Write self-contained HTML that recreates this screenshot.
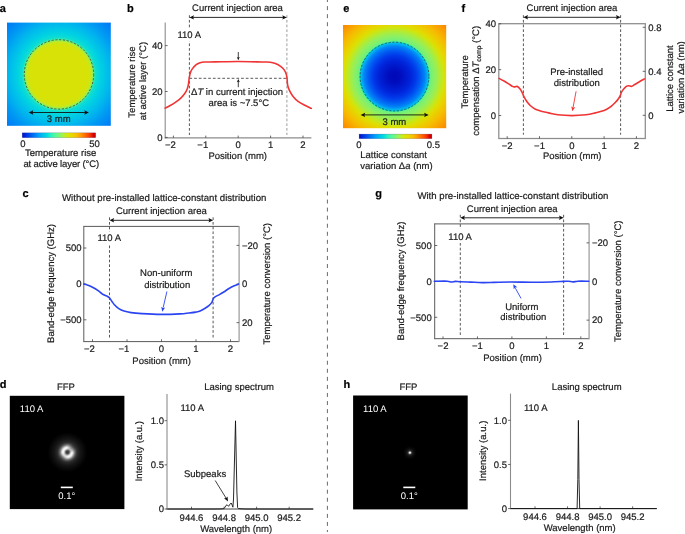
<!DOCTYPE html>
<html><head><meta charset="utf-8"><style>
html,body{margin:0;padding:0;background:#fff;overflow:hidden}
svg{display:block;will-change:transform}
</style></head><body>
<svg width="685" height="534" viewBox="0 0 685 534" font-family='"Liberation Sans", sans-serif' font-size="9.5" fill="#1a1a1a" text-rendering="geometricPrecision"><style>text{stroke:#1a1a1a;stroke-width:0.2px;stroke-linejoin:round;paint-order:stroke} text[fill="#fff"]{stroke:none} text[fill="#000"]{stroke:#000}</style>
<defs><linearGradient id="cb" x1="0" y1="0" x2="1" y2="0"><stop offset="0" stop-color="#0010c8"/><stop offset="0.08" stop-color="#0040e8"/><stop offset="0.15" stop-color="#0070f4"/><stop offset="0.22" stop-color="#00a0f8"/><stop offset="0.28" stop-color="#00c0f0"/><stop offset="0.33" stop-color="#00d8e0"/><stop offset="0.38" stop-color="#20f0c8"/><stop offset="0.44" stop-color="#50f8a0"/><stop offset="0.5" stop-color="#78f878"/><stop offset="0.56" stop-color="#b0f040"/><stop offset="0.62" stop-color="#d8e800"/><stop offset="0.68" stop-color="#e8d800"/><stop offset="0.74" stop-color="#f8c000"/><stop offset="0.8" stop-color="#ff9800"/><stop offset="0.86" stop-color="#ff6800"/><stop offset="0.92" stop-color="#f83800"/><stop offset="0.97" stop-color="#d80000"/><stop offset="1" stop-color="#c00000"/></linearGradient><radialGradient id="ga" gradientUnits="userSpaceOnUse" cx="59" cy="74.4" r="75"><stop offset="0" stop-color="#d8e206"/><stop offset="0.36" stop-color="#d8e206"/><stop offset="0.4" stop-color="#d5e30a"/><stop offset="0.43" stop-color="#c8e818"/><stop offset="0.46" stop-color="#7cf070"/><stop offset="0.47" stop-color="#38eda8"/><stop offset="0.49" stop-color="#10ded0"/><stop offset="0.55" stop-color="#00d3e2"/><stop offset="0.61" stop-color="#00c6e7"/><stop offset="0.69" stop-color="#00b5ee"/><stop offset="0.8" stop-color="#009af3"/><stop offset="1" stop-color="#0073f8"/></radialGradient><radialGradient id="ge" gradientUnits="userSpaceOnUse" cx="394.5" cy="76.6" r="74"><stop offset="0" stop-color="#0008b8"/><stop offset="0.08" stop-color="#000dbe"/><stop offset="0.15" stop-color="#0018cb"/><stop offset="0.22" stop-color="#0024da"/><stop offset="0.29" stop-color="#003aea"/><stop offset="0.35" stop-color="#005af2"/><stop offset="0.41" stop-color="#0083f6"/><stop offset="0.44" stop-color="#00aaf1"/><stop offset="0.46" stop-color="#00c9e6"/><stop offset="0.47" stop-color="#20e4c0"/><stop offset="0.48" stop-color="#68f080"/><stop offset="0.5" stop-color="#77f074"/><stop offset="0.54" stop-color="#8bf064"/><stop offset="0.58" stop-color="#9eee4e"/><stop offset="0.62" stop-color="#b6ea2f"/><stop offset="0.66" stop-color="#cfe510"/><stop offset="0.7" stop-color="#e2db00"/><stop offset="0.81" stop-color="#f6bc00"/><stop offset="1" stop-color="#fd8000"/></radialGradient><radialGradient id="ring" gradientUnits="userSpaceOnUse" cx="67.4" cy="452.3" r="20"><stop offset="0.000" stop-color="#383838"/><stop offset="0.050" stop-color="#404040"/><stop offset="0.100" stop-color="#707070"/><stop offset="0.150" stop-color="#c8c8c8"/><stop offset="0.200" stop-color="#f6f6f6"/><stop offset="0.250" stop-color="#f0f0f0"/><stop offset="0.300" stop-color="#c0c0c0"/><stop offset="0.350" stop-color="#848484"/><stop offset="0.425" stop-color="#4a4a4a"/><stop offset="0.500" stop-color="#2a2a2a"/><stop offset="0.650" stop-color="#161616"/><stop offset="0.850" stop-color="#080808"/><stop offset="1.000" stop-color="#000000"/></radialGradient><radialGradient id="shade"><stop offset="0" stop-color="#000" stop-opacity="0.5"/><stop offset="0.6" stop-color="#000" stop-opacity="0.25"/><stop offset="1" stop-color="#000" stop-opacity="0"/></radialGradient><radialGradient id="dot" gradientUnits="userSpaceOnUse" cx="409.9" cy="452.7" r="7"><stop offset="0.000" stop-color="#ffffff"/><stop offset="0.086" stop-color="#e4e4e4"/><stop offset="0.171" stop-color="#888888"/><stop offset="0.271" stop-color="#343434"/><stop offset="0.429" stop-color="#161616"/><stop offset="0.714" stop-color="#070707"/><stop offset="1.000" stop-color="#000000"/></radialGradient></defs>
<line x1="327.4" y1="-1.96" x2="327.4" y2="532" stroke="#6a6a6a" stroke-width="1" stroke-dasharray="4 4.06"/>
<text x="-0.3" y="11.8" font-weight="bold" font-size="11" fill="#000">a</text>
<text x="127" y="11.8" font-weight="bold" font-size="11" fill="#000">b</text>
<text x="22.6" y="196.8" font-weight="bold" font-size="11" fill="#000">c</text>
<text x="-0.3" y="387.8" font-weight="bold" font-size="11" fill="#000">d</text>
<text x="343.3" y="11.8" font-weight="bold" font-size="11" fill="#000">e</text>
<text x="461.5" y="11.6" font-weight="bold" font-size="11" fill="#000">f</text>
<text x="375.3" y="196.8" font-weight="bold" font-size="11" fill="#000">g</text>
<text x="343.5" y="387.8" font-weight="bold" font-size="11" fill="#000">h</text>
<rect x="7" y="22.6" width="103.8" height="103.2" fill="url(#ga)"/>
<circle cx="59.0" cy="74.4" r="34.7" fill="none" stroke="#3a3a3a" stroke-width="0.8" stroke-dasharray="2.2 1.6"/>
<line x1="31.2" y1="112.5" x2="86.4" y2="112.5" stroke="#111" stroke-width="0.9"/>
<polygon points="28.7,112.5 33.3,110.3 32.47,112.5 33.3,114.7" fill="#111"/>
<polygon points="88.9,112.5 84.3,114.7 85.13,112.5 84.3,110.3" fill="#111"/>
<text x="58.7" y="122.2" text-anchor="middle">3 mm</text>
<rect x="22.2" y="132.8" width="73.5" height="4.9" fill="url(#cb)" stroke="#202060" stroke-opacity="0.35" stroke-width="0.5"/>
<text x="22.9" y="147" text-anchor="middle">0</text>
<text x="94.6" y="147" text-anchor="middle">50</text>
<text x="60.7" y="156.2" text-anchor="middle">Temperature rise</text>
<text x="61.3" y="167.4" text-anchor="middle" textLength="75.8" lengthAdjust="spacing">at active layer (°C)</text>
<rect x="343" y="25" width="103.2" height="103.2" fill="url(#ge)"/>
<circle cx="394.5" cy="76.6" r="34.4" fill="none" stroke="#2a4a4a" stroke-width="0.8" stroke-dasharray="2.2 1.6"/>
<line x1="363.1" y1="114.9" x2="426.2" y2="114.9" stroke="#111" stroke-width="0.9"/>
<polygon points="360.6,114.9 365.2,112.7 364.37,114.9 365.2,117.1" fill="#111"/>
<polygon points="428.7,114.9 424.1,117.1 424.93,114.9 424.1,112.7" fill="#111"/>
<text x="394.4" y="124.6" text-anchor="middle">3 mm</text>
<rect x="359.1" y="134.1" width="72.8" height="4.6" fill="url(#cb)" stroke="#202060" stroke-opacity="0.35" stroke-width="0.5"/>
<text x="358.8" y="147.6" text-anchor="middle">0</text>
<text x="433.4" y="147.6" text-anchor="middle">0.5</text>
<text x="360.3" y="158">Lattice constant</text>
<text x="360.3" y="168.5">variation Δ<tspan font-style="italic">a</tspan> (nm)</text>
<line x1="165.2" y1="22.5" x2="165.2" y2="138.4" stroke="#8c8c8c" stroke-width="1.1"/>
<line x1="164.7" y1="137.9" x2="311.4" y2="137.9" stroke="#8c8c8c" stroke-width="1.1"/>
<line x1="165.2" y1="137.4" x2="167.6" y2="137.4" stroke="#444444" stroke-width="0.8"/>
<text x="162.6" y="140.7" text-anchor="end">0</text>
<line x1="165.2" y1="91.5" x2="167.6" y2="91.5" stroke="#444444" stroke-width="0.8"/>
<text x="162.6" y="94.8" text-anchor="end">20</text>
<line x1="165.2" y1="45.6" x2="167.6" y2="45.6" stroke="#444444" stroke-width="0.8"/>
<text x="162.6" y="48.9" text-anchor="end">40</text>
<line x1="173.4" y1="137.9" x2="173.4" y2="135.6" stroke="#444444" stroke-width="0.8"/>
<text x="175.8" y="148.4" text-anchor="end">−2</text>
<line x1="205.8" y1="137.9" x2="205.8" y2="135.6" stroke="#444444" stroke-width="0.8"/>
<text x="208.2" y="148.4" text-anchor="end">−1</text>
<line x1="238.2" y1="137.9" x2="238.2" y2="135.6" stroke="#444444" stroke-width="0.8"/>
<text x="238.2" y="148.4" text-anchor="middle">0</text>
<line x1="270.6" y1="137.9" x2="270.6" y2="135.6" stroke="#444444" stroke-width="0.8"/>
<text x="270.6" y="148.4" text-anchor="middle">1</text>
<line x1="303" y1="137.9" x2="303" y2="135.6" stroke="#444444" stroke-width="0.8"/>
<text x="303" y="148.4" text-anchor="middle">2</text>
<text x="237.7" y="158.7" text-anchor="middle">Position (mm)</text>
<text transform="translate(134.6,82) rotate(-90)" text-anchor="middle">Temperature rise</text>
<text transform="translate(146,81) rotate(-90)" text-anchor="middle">at active layer (°C)</text>
<line x1="189.4" y1="15.2" x2="189.4" y2="135" stroke="#3a3a3a" stroke-width="0.85" stroke-dasharray="2.7 2.0"/>
<line x1="286.9" y1="15.2" x2="286.9" y2="135" stroke="#8a8a8a" stroke-width="0.85" stroke-dasharray="2.7 2.0"/>
<line x1="189.4" y1="78.3" x2="286.9" y2="78.3" stroke="#3a3a3a" stroke-width="0.85" stroke-dasharray="2.7 2.0"/>
<line x1="191.9" y1="17.4" x2="284.4" y2="17.4" stroke="#111" stroke-width="0.9"/>
<polygon points="189.4,17.4 194,15.2 193.17,17.4 194,19.6" fill="#111"/>
<polygon points="286.9,17.4 282.3,19.6 283.13,17.4 282.3,15.2" fill="#111"/>
<text x="237.5" y="11.4" text-anchor="middle">Current injection area</text>
<rect x="176.3" y="28.6" width="26.6" height="13" fill="#fff"/>
<text x="177.5" y="38.2">110 A</text>
<line x1="238.3" y1="52" x2="238.3" y2="58" stroke="#111" stroke-width="0.8"/>
<polygon points="238.3,60.3 236.8,57.1 238.3,57.68 239.8,57.1" fill="#111"/>
<line x1="238.3" y1="87.2" x2="238.3" y2="81" stroke="#111" stroke-width="0.8"/>
<polygon points="238.3,79 239.8,82.2 238.3,81.62 236.8,82.2" fill="#111"/>
<text x="237" y="95" text-anchor="middle">Δ<tspan font-style="italic">T</tspan> in current injection</text>
<text x="238.8" y="106" text-anchor="middle">area is ~7.5°C</text>
<path d="M165.1,108.1 C165.95,107.67 168.5,106.45 170.2,105.5 C171.9,104.55 173.58,103.6 175.3,102.4 C177.02,101.2 178.95,99.75 180.5,98.3 C182.05,96.85 183.48,95.25 184.6,93.7 C185.72,92.15 186.55,90.63 187.2,89 C187.85,87.37 188.17,85.7 188.5,83.9 C188.83,82.1 188.9,80.02 189.2,78.2 C189.5,76.38 189.78,74.55 190.3,73 C190.82,71.45 191.37,70.27 192.3,68.9 C193.23,67.53 194.6,65.83 195.9,64.8 C197.2,63.77 198.72,63.17 200.1,62.7 C201.48,62.23 201.72,62.13 204.2,62 C206.68,61.87 209.32,61.98 215,61.9 C220.68,61.82 230.47,61.48 238.3,61.5 C246.13,61.52 256.68,61.88 262,62 C267.32,62.12 267.97,61.95 270.2,62.2 C272.43,62.45 273.67,62.82 275.4,63.5 C277.13,64.18 279.13,65.23 280.6,66.3 C282.07,67.37 283.27,68.6 284.2,69.9 C285.13,71.2 285.73,72.72 286.2,74.1 C286.67,75.48 286.77,76.4 287,78.2 C287.23,80 287.22,82.92 287.6,84.9 C287.98,86.88 288.42,88.22 289.3,90.1 C290.18,91.98 291.43,94.32 292.9,96.2 C294.37,98.08 296.03,99.85 298.1,101.4 C300.17,102.95 303.1,104.33 305.3,105.5 C307.5,106.67 310.3,107.92 311.3,108.4" stroke="#f03434" stroke-width="1.6" fill="none" stroke-linejoin="round" stroke-linecap="round"/>
<rect x="498.8" y="23.7" width="146.5" height="114.8" fill="none" stroke="#8c8c8c" stroke-width="1.25"/>
<line x1="498.8" y1="115.5" x2="501.2" y2="115.5" stroke="#444444" stroke-width="0.8"/>
<text x="496" y="118.8" text-anchor="end">0</text>
<line x1="498.8" y1="69.65" x2="501.2" y2="69.65" stroke="#444444" stroke-width="0.8"/>
<text x="496" y="72.95" text-anchor="end">20</text>
<line x1="498.8" y1="23.8" x2="501.2" y2="23.8" stroke="#444444" stroke-width="0.8"/>
<text x="496" y="27.1" text-anchor="end">40</text>
<line x1="645.3" y1="115.3" x2="642.7" y2="115.3" stroke="#444444" stroke-width="0.8"/>
<text x="648.3" y="118.6">0</text>
<line x1="645.3" y1="71.3" x2="642.7" y2="71.3" stroke="#444444" stroke-width="0.8"/>
<text x="648.3" y="74.6">0.4</text>
<line x1="645.3" y1="27.3" x2="642.7" y2="27.3" stroke="#444444" stroke-width="0.8"/>
<text x="648.3" y="30.6">0.8</text>
<line x1="507.2" y1="138.5" x2="507.2" y2="136.2" stroke="#444444" stroke-width="0.8"/>
<text x="507.2" y="149.3" text-anchor="middle">−2</text>
<line x1="539.5" y1="138.5" x2="539.5" y2="136.2" stroke="#444444" stroke-width="0.8"/>
<text x="539.5" y="149.3" text-anchor="middle">−1</text>
<line x1="571.8" y1="138.5" x2="571.8" y2="136.2" stroke="#444444" stroke-width="0.8"/>
<text x="571.8" y="149.3" text-anchor="middle">0</text>
<line x1="604.1" y1="138.5" x2="604.1" y2="136.2" stroke="#444444" stroke-width="0.8"/>
<text x="604.1" y="149.3" text-anchor="middle">1</text>
<line x1="636.4" y1="138.5" x2="636.4" y2="136.2" stroke="#444444" stroke-width="0.8"/>
<text x="636.4" y="149.3" text-anchor="middle">2</text>
<text x="572.2" y="159.3" text-anchor="middle">Position (mm)</text>
<text transform="translate(467.6,81.8) rotate(-90)" text-anchor="middle">Temperature</text>
<text transform="translate(478.6,80.8) rotate(-90)" text-anchor="middle">compensation Δ<tspan font-style="italic">T</tspan><tspan font-size="6.6" dy="2">comp</tspan><tspan dy="-2"> (°C)</tspan></text>
<text transform="translate(672.6,78.6) rotate(-90)" text-anchor="middle">Lattice constant</text>
<text transform="translate(683.6,77.4) rotate(-90)" text-anchor="middle">variation Δ<tspan font-style="italic">a</tspan> (nm)</text>
<line x1="523.4" y1="15.2" x2="523.4" y2="134.7" stroke="#3a3a3a" stroke-width="0.85" stroke-dasharray="2.7 2.0"/>
<line x1="620.6" y1="15.2" x2="620.6" y2="134.7" stroke="#3a3a3a" stroke-width="0.85" stroke-dasharray="2.7 2.0"/>
<line x1="525.9" y1="17.3" x2="618.1" y2="17.3" stroke="#111" stroke-width="0.9"/>
<polygon points="523.4,17.3 528,15.1 527.17,17.3 528,19.5" fill="#111"/>
<polygon points="620.6,17.3 616,19.5 616.83,17.3 616,15.1" fill="#111"/>
<text x="572" y="11.2" text-anchor="middle">Current injection area</text>
<text x="576.7" y="75.3" text-anchor="middle">Pre-installed</text>
<text x="576.8" y="85.8" text-anchor="middle">distribution</text>
<path d="M499.1,78.4 C499.85,78.8 502.07,79.93 503.6,80.8 C505.13,81.67 506.82,82.67 508.3,83.6 C509.78,84.53 511.48,85.85 512.5,86.4 C513.52,86.95 513.7,86.9 514.4,86.9 C515.1,86.9 516,86.33 516.7,86.4 C517.4,86.47 517.9,86.68 518.6,87.3 C519.3,87.92 520.2,89 520.9,90.1 C521.6,91.2 522.25,92.72 522.8,93.9 C523.35,95.08 523.5,95.88 524.2,97.2 C524.9,98.52 525.9,100.33 527,101.8 C528.1,103.27 529.38,104.75 530.8,106 C532.22,107.25 533.78,108.43 535.5,109.3 C537.22,110.17 538.92,110.6 541.1,111.2 C543.28,111.8 545.8,112.3 548.6,112.9 C551.4,113.5 554.03,114.35 557.9,114.8 C561.77,115.25 567.12,115.6 571.8,115.6 C576.48,115.6 582.07,115.25 586,114.8 C589.93,114.35 592.28,113.65 595.4,112.9 C598.52,112.15 602.22,111.28 604.7,110.3 C607.18,109.32 608.58,108.25 610.3,107 C612.02,105.75 613.67,104.13 615,102.8 C616.33,101.47 617.43,100.18 618.3,99 C619.17,97.82 619.65,96.87 620.2,95.7 C620.75,94.53 620.98,93.17 621.6,92 C622.22,90.83 623.05,89.68 623.9,88.7 C624.75,87.72 625.83,86.6 626.7,86.1 C627.57,85.6 628.32,85.65 629.1,85.7 C629.88,85.75 630.47,86.6 631.4,86.4 C632.33,86.2 633.37,85.28 634.7,84.5 C636.03,83.72 637.77,82.63 639.4,81.7 C641.03,80.77 643.65,79.37 644.5,78.9" stroke="#f03434" stroke-width="1.6" fill="none" stroke-linejoin="round" stroke-linecap="round"/>
<line x1="576.1" y1="91.3" x2="573.1" y2="107.2" stroke="#f03434" stroke-width="0.9"/>
<polygon points="572.4,111.3 571.25,106.42 573.07,107.59 575.18,107.13" fill="#f03434"/>
<line x1="83.8" y1="226.4" x2="239.1" y2="226.4" stroke="#5a5a5a" stroke-width="1"/>
<line x1="83.8" y1="225.9" x2="83.8" y2="342.1" stroke="#5a5a5a" stroke-width="1"/>
<line x1="83.8" y1="341.6" x2="239.1" y2="341.6" stroke="#5a5a5a" stroke-width="1"/>
<line x1="239.1" y1="225.9" x2="239.1" y2="342.1" stroke="#a0a0a0" stroke-width="1.3"/>
<line x1="83.8" y1="248" x2="86.4" y2="248" stroke="#444444" stroke-width="0.8"/>
<text x="81.6" y="251.3" text-anchor="end">500</text>
<line x1="83.8" y1="283.9" x2="86.4" y2="283.9" stroke="#444444" stroke-width="0.8"/>
<text x="81.6" y="287.2" text-anchor="end">0</text>
<line x1="83.8" y1="319.8" x2="86.4" y2="319.8" stroke="#444444" stroke-width="0.8"/>
<text x="81.6" y="323.1" text-anchor="end">−500</text>
<line x1="239.1" y1="245.35" x2="236.5" y2="245.35" stroke="#444444" stroke-width="0.8"/>
<text x="242" y="248.65">−20</text>
<line x1="239.1" y1="284" x2="236.5" y2="284" stroke="#444444" stroke-width="0.8"/>
<text x="242" y="287.3">0</text>
<line x1="239.1" y1="322.65" x2="236.5" y2="322.65" stroke="#444444" stroke-width="0.8"/>
<text x="242" y="325.95">20</text>
<line x1="92.5" y1="341.6" x2="92.5" y2="339.3" stroke="#444444" stroke-width="0.8"/>
<text x="94.9" y="351.8" text-anchor="end">−2</text>
<line x1="127" y1="341.6" x2="127" y2="339.3" stroke="#444444" stroke-width="0.8"/>
<text x="129.4" y="351.8" text-anchor="end">−1</text>
<line x1="161.5" y1="341.6" x2="161.5" y2="339.3" stroke="#444444" stroke-width="0.8"/>
<text x="161.5" y="351.8" text-anchor="middle">0</text>
<line x1="196" y1="341.6" x2="196" y2="339.3" stroke="#444444" stroke-width="0.8"/>
<text x="196" y="351.8" text-anchor="middle">1</text>
<line x1="230.5" y1="341.6" x2="230.5" y2="339.3" stroke="#444444" stroke-width="0.8"/>
<text x="230.5" y="351.8" text-anchor="middle">2</text>
<text x="161.6" y="363.6" text-anchor="middle">Position (mm)</text>
<text transform="translate(54.2,283.5) rotate(-90)" text-anchor="middle">Band-edge frequency (GHz)</text>
<text transform="translate(269.7,283.8) rotate(-90)" text-anchor="middle">Temperature conversion (°C)</text>
<text x="62" y="201.1" font-size="9.65">Without pre-installed lattice-constant distribution</text>
<text x="161.3" y="214" text-anchor="middle">Current injection area</text>
<line x1="109.5" y1="217.3" x2="109.5" y2="338.3" stroke="#3a3a3a" stroke-width="0.85" stroke-dasharray="2.7 2.0"/>
<line x1="213.1" y1="217.3" x2="213.1" y2="338.3" stroke="#3a3a3a" stroke-width="0.85" stroke-dasharray="2.7 2.0"/>
<line x1="112" y1="220.3" x2="210.6" y2="220.3" stroke="#111" stroke-width="0.9"/>
<polygon points="109.5,220.3 114.1,218.1 113.27,220.3 114.1,222.5" fill="#111"/>
<polygon points="213.1,220.3 208.5,222.5 209.33,220.3 208.5,218.1" fill="#111"/>
<rect x="96.2" y="231.5" width="26.6" height="13" fill="#fff"/>
<text x="97.4" y="241.3">110 A</text>
<path d="M83.8,284.1 C84.38,284.25 85.85,284.48 87.3,285 C88.75,285.52 90.75,286.32 92.5,287.2 C94.25,288.08 96.2,289.2 97.8,290.3 C99.4,291.4 100.93,292.97 102.1,293.8 C103.27,294.63 103.92,294.87 104.8,295.3 C105.68,295.73 106.6,295.95 107.4,296.4 C108.2,296.85 108.87,297.2 109.6,298 C110.33,298.8 111,300.08 111.8,301.2 C112.6,302.32 113.23,303.47 114.4,304.7 C115.57,305.93 117.2,307.53 118.8,308.6 C120.4,309.67 121.97,310.43 124,311.1 C126.03,311.77 128,312.18 131,312.6 C134,313.02 137.07,313.3 142,313.6 C146.93,313.9 154.27,314.35 160.6,314.4 C166.93,314.45 175.3,314.13 180,313.9 C184.7,313.67 186.17,313.3 188.8,313 C191.43,312.7 193.92,312.42 195.8,312.1 C197.68,311.78 198.65,311.68 200.1,311.1 C201.55,310.52 203.03,309.52 204.5,308.6 C205.97,307.68 207.65,306.68 208.9,305.6 C210.15,304.52 211.27,303.27 212,302.1 C212.73,300.93 212.8,299.48 213.3,298.6 C213.8,297.72 213.98,297.47 215,296.8 C216.02,296.13 217.93,295.4 219.4,294.6 C220.87,293.8 222.2,293.02 223.8,292 C225.4,290.98 227.25,289.55 229,288.5 C230.75,287.45 232.72,286.43 234.3,285.7 C235.88,284.97 237.8,284.37 238.5,284.1" stroke="#2a44f2" stroke-width="1.6" fill="none" stroke-linejoin="round" stroke-linecap="round"/>
<text x="166.2" y="276.4" text-anchor="middle">Non-uniform</text>
<text x="167.2" y="287.6" text-anchor="middle">distribution</text>
<line x1="166.9" y1="291.5" x2="163.2" y2="307.5" stroke="#2a44f2" stroke-width="0.9"/>
<polygon points="162.3,311.7 161.24,306.8 163.04,308 165.16,307.58" fill="#2a44f2"/>
<line x1="434.7" y1="223.9" x2="589.1" y2="223.9" stroke="#5a5a5a" stroke-width="1"/>
<line x1="434.7" y1="223.4" x2="434.7" y2="339.2" stroke="#5a5a5a" stroke-width="1"/>
<line x1="434.7" y1="338.7" x2="589.1" y2="338.7" stroke="#5a5a5a" stroke-width="1"/>
<line x1="589.1" y1="223.4" x2="589.1" y2="339.2" stroke="#a0a0a0" stroke-width="1.3"/>
<line x1="434.7" y1="245.5" x2="437.3" y2="245.5" stroke="#444444" stroke-width="0.8"/>
<text x="431.7" y="248.8" text-anchor="end">500</text>
<line x1="434.7" y1="281.4" x2="437.3" y2="281.4" stroke="#444444" stroke-width="0.8"/>
<text x="431.7" y="284.7" text-anchor="end">0</text>
<line x1="434.7" y1="317.3" x2="437.3" y2="317.3" stroke="#444444" stroke-width="0.8"/>
<text x="431.7" y="320.6" text-anchor="end">−500</text>
<line x1="589.1" y1="242.85" x2="586.5" y2="242.85" stroke="#444444" stroke-width="0.8"/>
<text x="592" y="246.15">−20</text>
<line x1="589.1" y1="281.5" x2="586.5" y2="281.5" stroke="#444444" stroke-width="0.8"/>
<text x="592" y="284.8">0</text>
<line x1="589.1" y1="320.15" x2="586.5" y2="320.15" stroke="#444444" stroke-width="0.8"/>
<text x="592" y="323.45">20</text>
<line x1="443" y1="338.7" x2="443" y2="336.4" stroke="#444444" stroke-width="0.8"/>
<text x="443" y="349.3" text-anchor="middle">−2</text>
<line x1="477.45" y1="338.7" x2="477.45" y2="336.4" stroke="#444444" stroke-width="0.8"/>
<text x="477.45" y="349.3" text-anchor="middle">−1</text>
<line x1="511.9" y1="338.7" x2="511.9" y2="336.4" stroke="#444444" stroke-width="0.8"/>
<text x="511.9" y="349.3" text-anchor="middle">0</text>
<line x1="546.35" y1="338.7" x2="546.35" y2="336.4" stroke="#444444" stroke-width="0.8"/>
<text x="546.35" y="349.3" text-anchor="middle">1</text>
<line x1="580.8" y1="338.7" x2="580.8" y2="336.4" stroke="#444444" stroke-width="0.8"/>
<text x="580.8" y="349.3" text-anchor="middle">2</text>
<text x="512.5" y="361.1" text-anchor="middle">Position (mm)</text>
<text transform="translate(404.3,281) rotate(-90)" text-anchor="middle">Band-edge frequency (GHz)</text>
<text transform="translate(621.3,281.3) rotate(-90)" text-anchor="middle">Temperature conversion (°C)</text>
<text x="417.4" y="198.6" font-size="9.65">With pre-installed lattice-constant distribution</text>
<text x="512.2" y="211.5" text-anchor="middle">Current injection area</text>
<line x1="460.3" y1="214.8" x2="460.3" y2="335.4" stroke="#3a3a3a" stroke-width="0.85" stroke-dasharray="2.7 2.0"/>
<line x1="563.6" y1="214.8" x2="563.6" y2="335.4" stroke="#3a3a3a" stroke-width="0.85" stroke-dasharray="2.7 2.0"/>
<line x1="462.8" y1="217.8" x2="561.1" y2="217.8" stroke="#111" stroke-width="0.9"/>
<polygon points="460.3,217.8 464.9,215.6 464.07,217.8 464.9,220" fill="#111"/>
<polygon points="563.6,217.8 559,220 559.83,217.8 559,215.6" fill="#111"/>
<rect x="447.1" y="229" width="26.6" height="13" fill="#fff"/>
<text x="448.3" y="239.6">110 A</text>
<path d="M434.3,281.3 C436.45,281.28 444.37,281.08 447.2,281.2 C450.03,281.32 449.93,281.97 451.3,282 C452.67,282.03 453.95,281.45 455.4,281.4 C456.85,281.35 457.48,281.58 460,281.7 C462.52,281.82 466.8,281.95 470.5,282.1 C474.2,282.25 478.3,282.55 482.2,282.6 C486.1,282.65 489.27,282.5 493.9,282.4 C498.53,282.3 503.42,282.02 510,282 C516.58,281.98 526.58,282.3 533.4,282.3 C540.22,282.3 545.85,282.15 550.9,282 C555.95,281.85 560.78,281.53 563.7,281.4 C566.62,281.27 566.83,281.12 568.4,281.2 C569.97,281.28 571.55,281.9 573.1,281.9 C574.65,281.9 575.08,281.32 577.7,281.2 C580.32,281.08 586.95,281.2 588.8,281.2" stroke="#2a44f2" stroke-width="1.6" fill="none" stroke-linejoin="round" stroke-linecap="round"/>
<text x="521.8" y="309.6" text-anchor="middle">Uniform</text>
<text x="523.3" y="320.2" text-anchor="middle">distribution</text>
<line x1="521" y1="298.4" x2="515.4" y2="288.2" stroke="#2a44f2" stroke-width="0.9"/>
<polygon points="513.3,284.3 517.27,287.37 515.12,287.61 513.76,289.29" fill="#2a44f2"/>
<rect x="9.8" y="395.8" width="114.6" height="113.3" fill="#000"/>
<circle cx="67.4" cy="452.3" r="20" fill="url(#ring)"/>
<text x="66" y="390" text-anchor="middle">FFP</text>
<text x="19.8" y="411.5" fill="#fff">110 A</text>
<line x1="60.8" y1="487.4" x2="72.8" y2="487.4" stroke="#fff" stroke-width="1.6"/>
<text x="66.8" y="499" text-anchor="middle" fill="#fff">0.1°</text>
<ellipse cx="71.4" cy="448.4" rx="5.5" ry="4.5" fill="url(#shade)" opacity="0.7" transform="rotate(-40 71.4 448.4)"/>
<ellipse cx="63.4" cy="456.6" rx="4.5" ry="4" fill="url(#shade)" opacity="0.35"/>
<rect x="353.1" y="395.5" width="114.6" height="113.9" fill="#000"/>
<circle cx="409.9" cy="452.7" r="7" fill="url(#dot)"/>
<text x="408.5" y="390" text-anchor="middle">FFP</text>
<text x="363.1" y="411.5" fill="#fff">110 A</text>
<line x1="403.3" y1="487.4" x2="415.3" y2="487.4" stroke="#fff" stroke-width="1.6"/>
<text x="409.3" y="499" text-anchor="middle" fill="#fff">0.1°</text>
<line x1="167" y1="394" x2="167" y2="509.5" stroke="#8c8c8c" stroke-width="1.1"/>
<line x1="166.5" y1="509" x2="313.5" y2="509" stroke="#444444" stroke-width="1.0"/>
<line x1="167" y1="420.7" x2="164.6" y2="420.7" stroke="#444444" stroke-width="0.8"/>
<text x="164" y="424" text-anchor="end">1.0</text>
<line x1="167" y1="464.85" x2="164.6" y2="464.85" stroke="#444444" stroke-width="0.8"/>
<text x="164" y="468.15" text-anchor="end">0.5</text>
<line x1="167" y1="509" x2="164.6" y2="509" stroke="#444444" stroke-width="0.8"/>
<text x="164" y="512.3" text-anchor="end">0</text>
<line x1="191.5" y1="509" x2="191.5" y2="506.7" stroke="#444444" stroke-width="0.8"/>
<text x="191.5" y="520.6" text-anchor="middle">944.6</text>
<line x1="224.05" y1="509" x2="224.05" y2="506.7" stroke="#444444" stroke-width="0.8"/>
<text x="224.05" y="520.6" text-anchor="middle">944.8</text>
<line x1="256.6" y1="509" x2="256.6" y2="506.7" stroke="#444444" stroke-width="0.8"/>
<text x="256.6" y="520.6" text-anchor="middle">945.0</text>
<line x1="289.15" y1="509" x2="289.15" y2="506.7" stroke="#444444" stroke-width="0.8"/>
<text x="289.15" y="520.6" text-anchor="middle">945.2</text>
<text x="239" y="390.3" text-anchor="middle">Lasing spectrum</text>
<text x="180.5" y="411">110 A</text>
<text x="236.2" y="531.8" text-anchor="middle">Wavelength (nm)</text>
<text transform="translate(142,451.2) rotate(-90)" text-anchor="middle">Intensity (a.u.)</text>
<polyline points="167.5,509 215,509 221,508.9 223.6,508.7 224.8,507.4 226.2,505.3 227.1,504.8 228.6,506.3 230,504.2 231.2,503 232.2,505.2 232.9,507.2 233.5,499 235.5,420.8 236.9,492 237.6,507.6 238.4,508.5 241,508.8 246,509 313,509" fill="none" stroke="#111" stroke-width="0.9" stroke-linejoin="miter"/>
<text x="183.9" y="477.3">Subpeaks</text>
<line x1="215.2" y1="480.5" x2="226" y2="498" stroke="#111" stroke-width="0.8"/>
<polygon points="228,501.4 224.03,498.33 226.18,498.09 227.54,496.41" fill="#111"/>
<line x1="510.5" y1="393.6" x2="510.5" y2="509.1" stroke="#8c8c8c" stroke-width="1.1"/>
<line x1="510" y1="508.6" x2="657" y2="508.6" stroke="#444444" stroke-width="1.0"/>
<line x1="510.5" y1="420.3" x2="508.1" y2="420.3" stroke="#444444" stroke-width="0.8"/>
<text x="507" y="423.6" text-anchor="end">1.0</text>
<line x1="510.5" y1="464.45" x2="508.1" y2="464.45" stroke="#444444" stroke-width="0.8"/>
<text x="507" y="467.75" text-anchor="end">0.5</text>
<line x1="510.5" y1="508.6" x2="508.1" y2="508.6" stroke="#444444" stroke-width="0.8"/>
<text x="507" y="511.9" text-anchor="end">0</text>
<line x1="535" y1="508.6" x2="535" y2="506.3" stroke="#444444" stroke-width="0.8"/>
<text x="535" y="520.2" text-anchor="middle">944.6</text>
<line x1="567.55" y1="508.6" x2="567.55" y2="506.3" stroke="#444444" stroke-width="0.8"/>
<text x="567.55" y="520.2" text-anchor="middle">944.8</text>
<line x1="600.1" y1="508.6" x2="600.1" y2="506.3" stroke="#444444" stroke-width="0.8"/>
<text x="600.1" y="520.2" text-anchor="middle">945.0</text>
<line x1="632.65" y1="508.6" x2="632.65" y2="506.3" stroke="#444444" stroke-width="0.8"/>
<text x="632.65" y="520.2" text-anchor="middle">945.2</text>
<text x="586.7" y="389.9" text-anchor="middle">Lasing spectrum</text>
<text x="524" y="410.6">110 A</text>
<text x="579.7" y="531.4" text-anchor="middle">Wavelength (nm)</text>
<text transform="translate(486.3,450.8) rotate(-90)" text-anchor="middle">Intensity (a.u.)</text>
<polyline points="511,508.6 577.1,508.6 577.8,479.6 578.4,420.4 579,479.6 579.7,508.6 656.5,508.6" fill="none" stroke="#111" stroke-width="0.9" stroke-linejoin="miter"/>
</svg>
</body></html>
